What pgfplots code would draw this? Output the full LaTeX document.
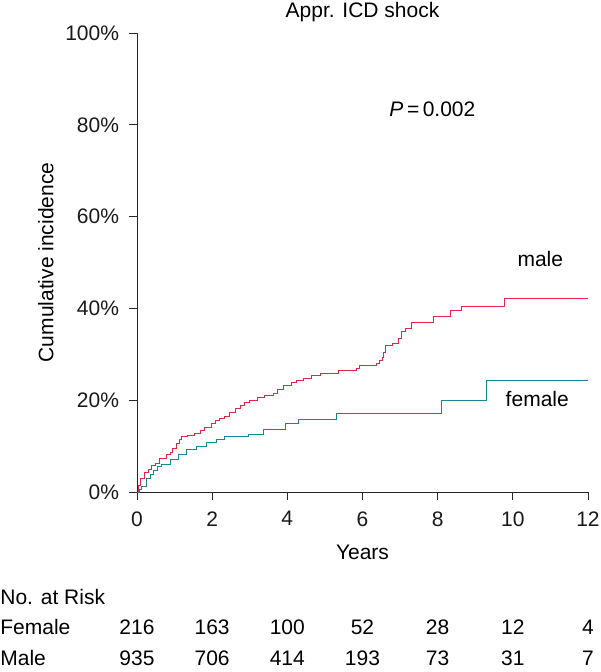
\documentclass[border=0pt]{standalone}
\usepackage{fontspec}
\setmainfont{Liberation Sans}
\usepackage{pgfplots}
\pgfplotsset{compat=1.18}
\definecolor{malered}{RGB}{222,40,70}
\definecolor{femteal}{RGB}{22,134,148}
\newcommand{\fs}{\fontsize{21}{25}\selectfont}
\begin{document}
\begin{tikzpicture}[font=\fs]
\path[use as bounding box] (-137pt,-180pt) rectangle (463pt,492pt);
\begin{axis}[
  at={(0pt,0pt)}, anchor=south west,
  scale only axis, width=451pt, height=459pt,
  xmin=0, xmax=12, ymin=0, ymax=100,
  axis x line=bottom, axis y line=left,
  axis line style={-, line width=0.9pt, black!85},
  every tick/.style={black!85, line width=0.9pt},
  tick align=outside, major tick length=8pt,
  xtick={0,2,4,6,8,10,12},
  ytick={0,20,40,60,80,100},
  yticklabels={0\%,20\%,40\%,60\%,80\%,100\%},
  /pgf/number format/assume math mode=true,
  tick label style={font=\fs, black!90},
  xticklabel style={yshift=-8pt},
  yticklabel style={xshift=-6.5pt},
  xlabel={Years}, ylabel={Cumulative incidence},
  every axis x label/.style={at={(axis description cs:0.5,-0.148)}, anchor=base, font=\fs},
  every axis y label/.style={at={(axis description cs:-0.202,0.5)}, rotate=90, anchor=center, font=\fs},
  clip=false,
]
\addplot[const plot mark left, color=malered, line width=1pt] coordinates {
(0,0) (0.04,1.5) (0.1,3.0) (0.2,4.2) (0.3,5.0) (0.39,5.8) (0.48,6.3) (0.6,7.2)
(0.79,8.1) (0.88,8.6) (0.95,9.5) (1.05,10.6) (1.12,11.4) (1.19,12.0) (1.35,12.4)
(1.54,12.8) (1.68,13.3) (1.8,14.0) (1.99,15.0) (2.1,15.5) (2.2,16.0) (2.34,16.4)
(2.45,17.3) (2.61,18.2) (2.75,18.9) (2.87,19.5) (3.0,19.9) (3.2,20.5) (3.4,21.1)
(3.63,21.5) (3.75,22.4) (3.89,23.3) (4.1,23.9) (4.25,24.4) (4.42,24.8) (4.65,25.3)
(4.87,25.9) (5.35,26.4) (5.84,26.9) (5.93,27.6) (6.37,28.0) (6.45,28.6) (6.52,29.2)
(6.56,30.3) (6.6,32.0) (6.8,32.4) (6.95,33.5) (7.04,34.9) (7.15,35.7) (7.30,36.9)
(7.88,38.3) (8.34,39.5) (8.63,40.4) (9.79,42.1) (12,42.1)
};
\addplot[const plot mark left, color=femteal, line width=1pt] coordinates {
(0,0) (0.06,0.6) (0.12,1.3) (0.26,3.0) (0.35,3.8) (0.43,4.6) (0.55,5.5) (0.66,6.0)
(0.88,7.0) (1.10,8.1) (1.32,9.2) (1.59,9.9) (1.85,10.7) (2.12,11.5)
(2.34,12.0) (2.96,12.6) (3.36,13.7) (3.94,15.0) (4.29,15.8) (5.31,17.2)
(8.10,20.0) (9.30,24.2) (12,24.2)
};
\node[anchor=base] at (axis cs:6,103.3) {Appr. ICD shock};
\node[anchor=base] at (axis cs:7.86,81.8) {\itshape P\upshape\,=\,0.002};
\node[anchor=base] at (axis cs:10.73,49.1) {male};
\node[anchor=base] at (axis cs:10.65,18.6) {female};
% risk table
\node[anchor=base west, inner sep=0pt] at (axis cs:-3.64,-24.4) {No. at Risk};
\node[anchor=base west, inner sep=0pt] at (axis cs:-3.64,-31.15) {Female};
\node[anchor=base west, inner sep=0pt] at (axis cs:-3.64,-37.9) {Male};
\node[anchor=base] at (axis cs:0,-31.15) {216};
\node[anchor=base] at (axis cs:2,-31.15) {163};
\node[anchor=base] at (axis cs:4,-31.15) {100};
\node[anchor=base] at (axis cs:6,-31.15) {52};
\node[anchor=base] at (axis cs:8,-31.15) {28};
\node[anchor=base] at (axis cs:10,-31.15) {12};
\node[anchor=base] at (axis cs:12,-31.15) {4};
\node[anchor=base] at (axis cs:0,-37.9) {935};
\node[anchor=base] at (axis cs:2,-37.9) {706};
\node[anchor=base] at (axis cs:4,-37.9) {414};
\node[anchor=base] at (axis cs:6,-37.9) {193};
\node[anchor=base] at (axis cs:8,-37.9) {73};
\node[anchor=base] at (axis cs:10,-37.9) {31};
\node[anchor=base] at (axis cs:12,-37.9) {7};
\end{axis}
\end{tikzpicture}
\end{document}
